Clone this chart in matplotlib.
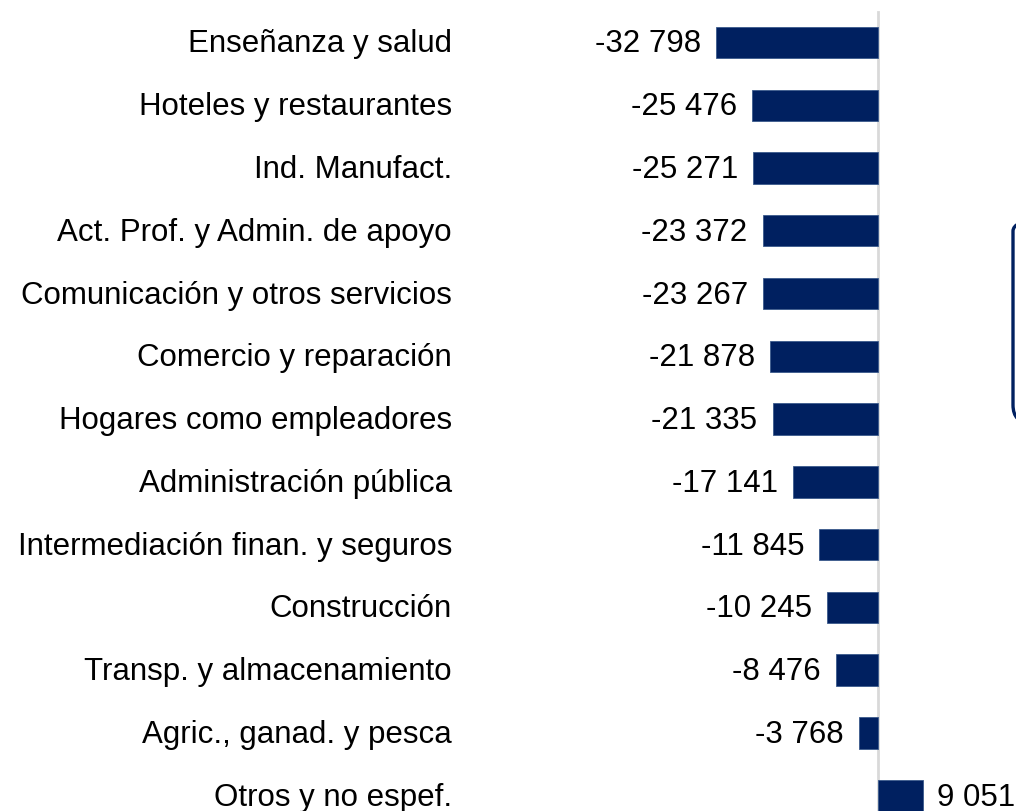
import matplotlib
matplotlib.use("Agg")
import matplotlib.pyplot as plt
from matplotlib.patches import FancyBboxPatch
from matplotlib.transforms import IdentityTransform, blended_transform_factory

plt.rcParams['font.family'] = ['Liberation Sans', 'DejaVu Sans']

sectores = [
    "Enseñanza y salud",
    "Hoteles y restaurantes",
    "Ind. Manufact.",
    "Act. Prof. y Admin. de apoyo",
    "Comunicación y otros servicios",
    "Comercio y reparación",
    "Hogares como empleadores",
    "Administración pública",
    "Intermediación finan. y seguros",
    "Construcción",
    "Transp. y almacenamiento",
    "Agric., ganad. y pesca",
    "Otros y no espef.",
]
variacion = [-32798, -25476, -25271, -23372, -23267, -21878, -21335,
             -17141, -11845, -10245, -8476, -3768, 9051]

navy = "#002060"
fs = 22.5
base_dy = -7.2  # baseline sits ~10 px below the bar centre

fig = plt.figure(figsize=(10.16, 8.11), dpi=100)
ax = fig.add_axes([0, 0, 1, 1])

pos = list(range(len(sectores)))
ax.barh(pos, variacion, height=0.5, color=navy, edgecolor="#3a5a8c", linewidth=0.6)

# scale: zero at px 878, -32798 at px 716
ax.set_xlim(-177760, 27940)
ax.set_ylim(12.245, -0.677)

# zero line
ax.plot([0, 0], [-0.48, 12.3], color="#d9d9d9", linewidth=2, zorder=0)

lab_tr = blended_transform_factory(ax.transAxes, ax.transData)
for i, (name, v) in enumerate(zip(sectores, variacion)):
    ax.annotate(name, (452 / 1016, i), xycoords=lab_tr, xytext=(0, base_dy),
                textcoords="offset points", ha="right", va="baseline",
                fontsize=fs, color="#000000")
    txt = f"{abs(v):,}".replace(",", " ")
    if v < 0:
        txt = "-" + txt
        ax.annotate(txt, (v, i), xytext=(-11, base_dy), textcoords="offset points",
                    ha="right", va="baseline", fontsize=fs)
    else:
        ax.annotate(txt, (v, i), xytext=(10, base_dy), textcoords="offset points",
                    ha="left", va="baseline", fontsize=fs)

ax.axis("off")

# cropped rounded box at the right edge
box = FancyBboxPatch((1013, 388), 120, 210,
                     boxstyle="round,pad=0,rounding_size=18",
                     transform=IdentityTransform(), fill=False,
                     edgecolor=navy, linewidth=2.4)
fig.patches.append(box)

fig.savefig("out.png", dpi=100)
